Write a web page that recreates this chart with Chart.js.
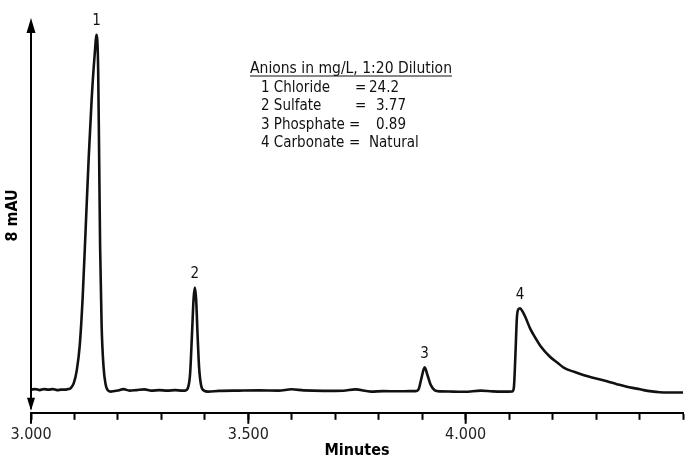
<!DOCTYPE html>
<html>
<head>
<meta charset="utf-8">
<script src="https://cdn.jsdelivr.net/npm/chart.js@4/dist/chart.umd.min.js"></script>
<style>
  html, body { margin: 0; padding: 0; background: #fff; }
  #wrap { width: 688px; height: 456px; position: relative; }
</style>
</head>
<body>
<div id="wrap"><canvas id="chrom"></canvas></div>
<script>
// retention time (min) and detector signal (mAU)
const times = [
  3.000, 3.010, 3.020, 3.030, 3.040, 3.050, 3.060, 3.070, 3.080, 3.086,
  3.0915, 3.0984, 3.1053, 3.1121, 3.1190, 3.1259, 3.1327, 3.1396, 3.1465, 3.1510,
  3.1545, 3.1568, 3.1590, 3.1625, 3.1670, 3.1716, 3.1762, 3.1831,
  3.199, 3.2128, 3.2265, 3.2426, 3.2609, 3.2769, 3.2952, 3.3135, 3.3318, 3.3478,
  3.3547, 3.3616, 3.3661, 3.3707, 3.3741, 3.3769, 3.3799, 3.3833, 3.3867, 3.3913, 3.3982, 3.4073,
  3.4325, 3.4783, 3.524, 3.5698, 3.5995, 3.627, 3.6728, 3.7185, 3.746, 3.7826, 3.81, 3.8444, 3.8719,
  3.8856, 3.8924, 3.8982, 3.9055, 3.913, 3.9199, 3.929, 3.9405,
  3.9703, 3.9977, 4.0343, 4.0618, 4.0892, 4.1076,
  4.111, 4.1144, 4.1178, 4.1213, 4.1252, 4.1304, 4.1373, 4.1487, 4.1602, 4.1716,
  4.1945, 4.2105, 4.2265, 4.2494, 4.2723, 4.2975, 4.325, 4.3478, 4.3707, 4.3936,
  4.4096, 4.4279, 4.4462, 4.4668, 4.4851, 4.500
];
const signal = [
  0.01, 0.02, 0.00, 0.02, 0.01, 0.02, 0.00, 0.01, 0.01, 0.02,
  0.04, 0.14, 0.40, 0.90, 1.90, 3.30, 4.70, 5.90, 6.80, 7.20,
  6.50, 4.70, 2.90, 1.30, 0.46, 0.12, 0.00, -0.03,
  -0.01, 0.02, -0.01, 0.00, 0.014, -0.01, 0.00, -0.01, 0.00, -0.01,
  -0.01, 0.06, 0.34, 1.20, 1.86, 2.08, 1.84, 1.10, 0.46, 0.10, -0.01, -0.03,
  -0.016, -0.01, -0.006, -0.01, 0.016, -0.006, -0.016, -0.012, 0.014, -0.03, -0.02, -0.024, -0.02,
  -0.02, 0.03, 0.24, 0.46, 0.28, 0.10, -0.006, -0.026,
  -0.03, -0.034, -0.01, -0.026, -0.03, -0.026,
  0.06, 0.70, 1.46, 1.64, 1.66, 1.60, 1.48, 1.24, 1.06, 0.90,
  0.67, 0.56, 0.45, 0.37, 0.30, 0.24, 0.18, 0.12, 0.066, 0.03,
  0.00, -0.026, -0.044, -0.05, -0.05, -0.05
];

const peakLabels = ["1", "2", "3", "4"];
const peakTimes = [3.151, 3.3769, 3.9055, 4.1252];

const xMajorTicks = [3.0, 3.5, 4.0];
const xTickLabels = ["3.000", "3.500", "4.000"];
const xTitle = "Minutes";
const yTitle = "8 mAU";

const legendTitle = "Anions in mg/L, 1:20 Dilution";
const legendNames = ["1 Chloride", "2 Sulfate", "3 Phosphate", "4 Carbonate"];
const legendValues = ["24.2", "3.77", "0.89", "Natural"];

const FONT = "'DejaVu Sans Condensed', 'Noto Sans', sans-serif";

const isMajor = (v) => xMajorTicks.findIndex((m) => Math.abs(m - v) < 1e-6);

// axes arrows, long major ticks, titles, peak numbers and the note block
const decorPlugin = {
  id: "decor",
  afterDraw(chart) {
    const ctx = chart.ctx;
    const area = chart.chartArea;
    const xs = chart.scales.x;
    const ys = chart.scales.y;
    ctx.save();
    ctx.strokeStyle = "#000";
    ctx.fillStyle = "#000";
    ctx.lineWidth = 2;

    // vertical axis with arrows both ends
    const ax = area.left;
    ctx.beginPath();
    ctx.moveTo(ax, area.top + 4);
    ctx.lineTo(ax, area.bottom - 4);
    ctx.stroke();
    ctx.beginPath();
    ctx.moveTo(ax, area.top);
    ctx.lineTo(ax - 4.5, area.top + 15);
    ctx.lineTo(ax + 4.5, area.top + 15);
    ctx.closePath();
    ctx.fill();
    ctx.beginPath();
    ctx.moveTo(ax, area.bottom - 2);
    ctx.lineTo(ax - 4, area.bottom - 15);
    ctx.lineTo(ax + 4, area.bottom - 15);
    ctx.closePath();
    ctx.fill();

    // longer ticks under the labelled minutes
    xMajorTicks.forEach((m) => {
      const px = xs.getPixelForValue(m);
      ctx.beginPath();
      ctx.moveTo(px, area.bottom);
      ctx.lineTo(px, area.bottom + 11);
      ctx.stroke();
    });

    // axis titles
    ctx.font = "bold 16px " + FONT;
    ctx.textAlign = "center";
    ctx.textBaseline = "alphabetic";
    ctx.fillText(xTitle, (area.left + area.right) / 2, 455);
    ctx.save();
    ctx.translate(13, (area.top + area.bottom) / 2);
    ctx.rotate(-Math.PI / 2);
    ctx.textBaseline = "middle";
    ctx.fillText(yTitle, 0, 0);
    ctx.restore();

    // peak numbers
    ctx.font = "15px " + FONT;
    ctx.fillStyle = "#111";
    ctx.textBaseline = "bottom";
    peakLabels.forEach((lab, i) => {
      let best = 0;
      times.forEach((t, j) => {
        if (Math.abs(t - peakTimes[i]) < Math.abs(times[best] - peakTimes[i])) best = j;
      });
      const px = xs.getPixelForValue(times[best]);
      const py = ys.getPixelForValue(signal[best]);
      ctx.fillText(lab, px, py - 6);
    });

    // note block
    ctx.textAlign = "left";
    ctx.textBaseline = "alphabetic";
    ctx.font = "15.5px " + FONT;
    ctx.fillText(legendTitle, 250, 73);
    const w = ctx.measureText(legendTitle).width;
    ctx.lineWidth = 1;
    ctx.strokeStyle = "#111";
    ctx.beginPath();
    ctx.moveTo(250, 76);
    ctx.lineTo(250 + w, 76);
    ctx.stroke();

    const eqX = [355, 355, 349, 349];
    const valX = [369, 376, 376, 369];
    ctx.font = "15px " + FONT;
    legendNames.forEach((name, i) => {
      const by = 92 + i * 18.3;
      ctx.fillText(name, 261, by);
      const nameEnd = 261 + ctx.measureText(name).width;
      const ex = Math.max(eqX[i], nameEnd + 3);
      ctx.fillText("=", ex, by);
      ctx.fillText(legendValues[i], Math.max(valX[i], ex + 13), by);
    });
    ctx.restore();
  },
};

new Chart(document.getElementById("chrom"), {
  type: "line",
  data: {
    datasets: [
      {
        data: times.map((t, i) => ({ x: t, y: signal[i] })),
        borderColor: "#111",
        borderWidth: 2.6,
        pointRadius: 0,
        fill: false,
        cubicInterpolationMode: "monotone",
      },
    ],
  },
  options: {
    responsive: true,
    maintainAspectRatio: false,
    animation: false,
    layout: { padding: { top: 18, left: 31, right: 1, bottom: 7 } },
    plugins: { legend: { display: false }, tooltip: { enabled: false } },
    scales: {
      x: {
        type: "linear",
        min: 3.0,
        max: 4.5,
        border: { display: true, color: "#000", width: 2 },
        grid: {
          drawOnChartArea: false,
          drawTicks: true,
          tickLength: 7,
          tickColor: "#000",
          tickWidth: 2,
        },
        ticks: {
          stepSize: 0.1,
          autoSkip: false,
          maxRotation: 0,
          padding: 5,
          color: "#222",
          font: { family: FONT, size: 16 },
          callback: (v) => {
            const k = isMajor(v);
            return k >= 0 ? xTickLabels[k] : "";
          },
        },
      },
      y: {
        display: false,
        min: -0.46,
        max: 7.54,
      },
    },
  },
  plugins: [decorPlugin],
});
</script>
</body>
</html>
